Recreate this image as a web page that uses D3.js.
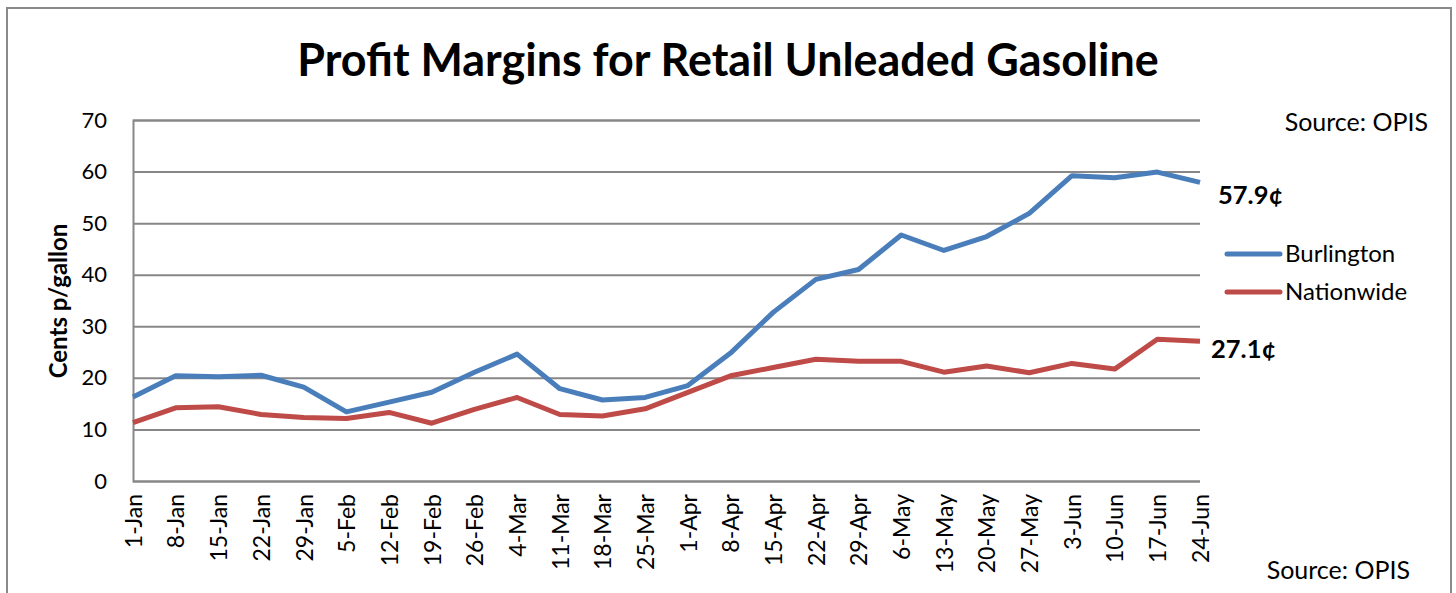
<!DOCTYPE html>
<html>
<head>
<meta charset="utf-8">
<script src="https://cdn.jsdelivr.net/npm/d3@7"></script>
<style>
  html, body { margin: 0; padding: 0; background: #fff; }
  svg { display: block; }
  text { font-family: Lato, "Open Sans", sans-serif; fill: #000; }
</style>
</head>
<body>
<svg id="chart" width="1456" height="593"></svg>
<script>
const categories = ["1-Jan","8-Jan","15-Jan","22-Jan","29-Jan","5-Feb","12-Feb","19-Feb","26-Feb","4-Mar","11-Mar","18-Mar","25-Mar","1-Apr","8-Apr","15-Apr","22-Apr","29-Apr","6-May","13-May","20-May","27-May","3-Jun","10-Jun","17-Jun","24-Jun"];
const burlington = [16.3,20.4,20.2,20.5,18.2,13.4,15.3,17.2,21.1,24.6,17.9,15.7,16.2,18.5,24.8,32.7,39.1,41.0,47.7,44.7,47.4,51.9,59.2,58.8,59.9,57.9];
const nationwide = [11.3,14.2,14.4,12.9,12.3,12.1,13.3,11.2,13.9,16.2,12.9,12.6,14.0,17.2,20.4,22.0,23.6,23.2,23.2,21.1,22.3,21.0,22.8,21.7,27.5,27.1];
const yTicks = [0,10,20,30,40,50,60,70];
const seriesNames = ["Burlington","Nationwide"];
const endLabels = ["57.9¢","27.1¢"];
const title = "Profit Margins for Retail Unleaded Gasoline";
const yTitle = "Cents p/gallon";
const sourceText = "Source: OPIS";

const colors = ["#4A7EBB", "#BE4B48"];
const gridColor = "#878787";

const svg = d3.select("#chart");
const plot = {left: 133, right: 1200, top: 120, bottom: 481};

// outer border
svg.append("rect").attr("x", 7).attr("y", 8).attr("width", 1444).attr("height", 600)
  .attr("fill", "none").attr("stroke", "#8a8a8a").attr("stroke-width", 2);

const x = d3.scalePoint().domain(categories).range([plot.left, plot.right]);
const y = d3.scaleLinear().domain([0, 70]).range([plot.bottom, plot.top]);

// gridlines + y axis labels
const yAxis = d3.axisLeft(y).tickValues(yTicks).tickSize(-(plot.right - plot.left)).tickPadding(26);
const gy = svg.append("g").attr("transform", `translate(${plot.left},0)`).call(yAxis);
gy.select(".domain").attr("stroke", gridColor).attr("stroke-width", 2);
gy.selectAll(".tick line").attr("stroke", gridColor).attr("stroke-width", 2);
gy.selectAll(".tick text").attr("font-size", 22).attr("font-family", "Lato, sans-serif").attr("fill", "#000");

// x axis labels
const xAxis = d3.axisBottom(x).tickSize(0).tickPadding(0);
const gx = svg.append("g").attr("transform", `translate(0,${plot.bottom})`).call(xAxis);
gx.select(".domain").remove();
gx.selectAll(".tick text")
  .attr("font-size", 23).attr("font-family", "Lato, sans-serif").attr("fill", "#000")
  .attr("text-anchor", "end")
  .attr("transform", "rotate(-90)")
  .attr("x", -13).attr("y", 0).attr("dy", "0.36em");

// lines
const line = d3.line().x((d, i) => x(categories[i])).y(d => y(d));
[burlington, nationwide].forEach((s, k) => {
  svg.append("path").datum(s).attr("d", line)
    .attr("fill", "none").attr("stroke", colors[k]).attr("stroke-width", 5)
    .attr("stroke-linejoin", "round").attr("stroke-linecap", "butt");
});

// end labels
svg.append("text").attr("x", 1218).attr("y", 204).attr("font-size", 25.5).attr("font-weight", "bold").text(endLabels[0]);
svg.append("text").attr("x", 1211).attr("y", 358).attr("font-size", 25.5).attr("font-weight", "bold").text(endLabels[1]);

// legend
const legY = [254, 292];
seriesNames.forEach((n, k) => {
  svg.append("line").attr("x1", 1227).attr("x2", 1280).attr("y1", legY[k]).attr("y2", legY[k])
    .attr("stroke", colors[k]).attr("stroke-width", 5).attr("stroke-linecap", "round");
  svg.append("text").attr("x", 1285).attr("y", legY[k] + 8).attr("font-size", 24).text(n);
});

// title
const t = svg.append("text").attr("x", 728).attr("y", 76).attr("text-anchor", "middle")
  .attr("font-weight", "bold").attr("font-size", 40).text(title);
const tw = t.node().getComputedTextLength();
t.attr("font-size", 40 * 862 / tw);

// y title
svg.append("text").attr("transform", "translate(67,301) rotate(-90)").attr("text-anchor", "middle")
  .attr("font-weight", "bold").attr("font-size", 24).text(yTitle);

// sources
svg.append("text").attr("x", 1428).attr("y", 131).attr("text-anchor", "end").attr("font-size", 25).text(sourceText);
svg.append("text").attr("x", 1410).attr("y", 579).attr("text-anchor", "end").attr("font-size", 25).text(sourceText);
</script>
</body>
</html>
